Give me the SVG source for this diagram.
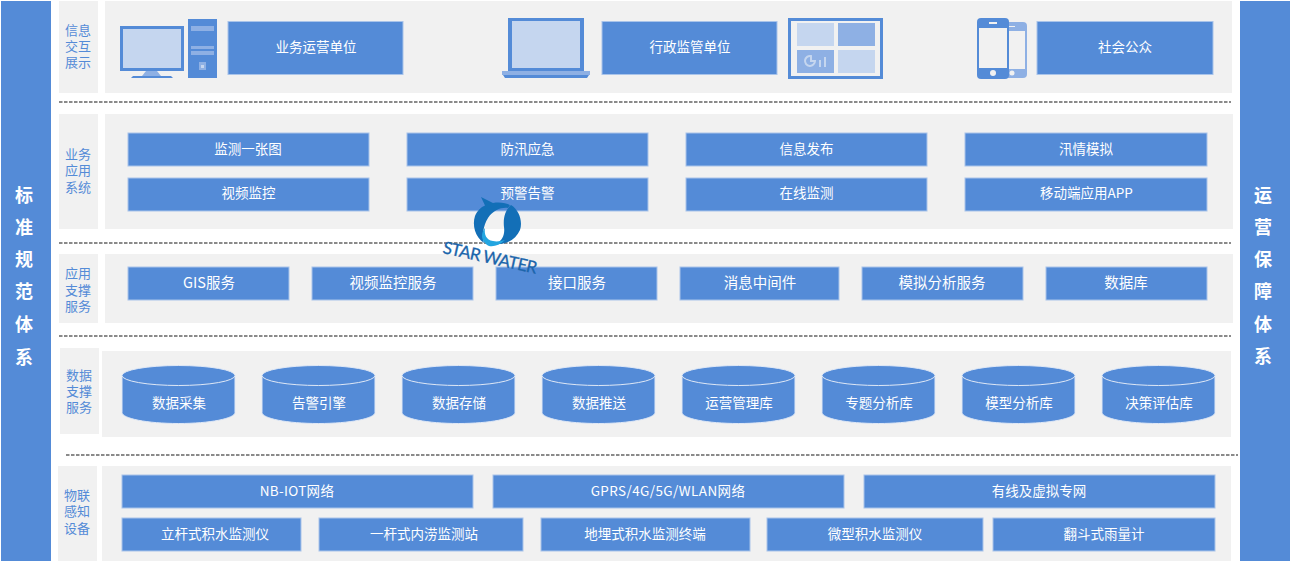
<svg xmlns="http://www.w3.org/2000/svg" width="1291" height="562" viewBox="0 0 1291 562">
<style>
text{font-family:"Noto Sans CJK SC","Noto Sans",sans-serif;text-anchor:middle}
.p{fill:#f1f1f1}
.b{fill:#548bd7;stroke:#a9c4ea;stroke-width:1}
.t{fill:#fff;font-size:13.5px}
.t2{fill:#fff;font-size:14.5px}
.l{fill:#548bd7;font-size:13px;font-family:"Liberation Sans","Noto Sans CJK SC",sans-serif}
.s{fill:#fff;font-size:18px;font-weight:700}
.d{stroke:#8a8a8a;stroke-width:2;stroke-dasharray:3.5 1.5;fill:none}
.m{fill:#548bd7}.c{fill:#c5d6ef}.n{fill:#8eb0e4}
.cy{fill:#548bd7;stroke:#dfe8f6;stroke-width:1}
</style>
<defs>
<g id="cyl"><path class="cy" d="M0 11.5V47.500C0 53.500 25 58.500 56.500 58.500S113 53.500 113 47.500V11.500"/><ellipse class="cy" cx="56.500" cy="10.500" rx="56.500" ry="10"/></g>
</defs>
<g id="sides">
<g id="side-left"><rect class="m" x="1" y="1" width="50" height="560"/>
<text class="s" x="24" y="202">标</text><text class="s" x="24" y="234">准</text><text class="s" x="24" y="266">规</text><text class="s" x="24" y="298">范</text><text class="s" x="24" y="331">体</text><text class="s" x="24" y="364">系</text></g>
<g id="side-right"><rect class="m" x="1240" y="1" width="50" height="560"/>
<text class="s" x="1263" y="202">运</text><text class="s" x="1263" y="234">营</text><text class="s" x="1263" y="266">保</text><text class="s" x="1263" y="298">障</text><text class="s" x="1263" y="331">体</text><text class="s" x="1263" y="363">系</text></g>
</g>
<g id="panels">
<rect class="p" x="59" y="1" width="39" height="92"/><rect class="p" x="105" y="1" width="1127" height="92"/>
<rect class="p" x="59" y="114" width="39" height="115"/><rect class="p" x="105" y="114" width="1128" height="115"/>
<rect class="p" x="59" y="254" width="39" height="69"/><rect class="p" x="105" y="254" width="1128" height="69"/>
<rect class="p" x="60" y="348" width="39" height="86"/><rect class="p" x="102" y="351" width="1129" height="86"/>
<rect class="p" x="58" y="466" width="39" height="95"/><rect class="p" x="102" y="466" width="1129" height="95"/>
</g>
<g id="connectors">
<path class="d" d="M59 102H1231M59 243H1231M59 336H1231M66 455H1238"/>
</g>
<g id="labels">
<text class="l"><tspan x="78" y="35">信息</tspan><tspan x="78" y="51">交互</tspan><tspan x="78" y="67">展示</tspan></text>
<text class="l"><tspan x="78" y="159">业务</tspan><tspan x="78" y="175">应用</tspan><tspan x="78" y="192">系统</tspan></text>
<text class="l"><tspan x="78" y="278">应用</tspan><tspan x="78" y="295">支撑</tspan><tspan x="78" y="311">服务</tspan></text>
<text class="l"><tspan x="79" y="380">数据</tspan><tspan x="79" y="396">支撑</tspan><tspan x="79" y="412">服务</tspan></text>
<text class="l"><tspan x="77" y="500">物联</tspan><tspan x="77" y="516">感知</tspan><tspan x="77" y="533">设备</tspan></text>
</g>
<g id="icons">
<g id="icon-pc"><rect class="m" x="120" y="26" width="64" height="45"/><rect class="c" x="123" y="29" width="58" height="39"/><path class="n" d="M146 71H157L161 76H142Z"/><path class="m" d="M133 76H171L173 78H131Z"/><rect class="m" x="188" y="19" width="29" height="59"/><rect class="n" x="191" y="26" width="23" height="5"/><rect class="n" x="191" y="46" width="23" height="3"/><rect class="n" x="191" y="51" width="23" height="4"/><rect class="n" x="199" y="62" width="7" height="8"/><rect class="c" x="201" y="65" width="3" height="3"/></g>
<g id="icon-laptop"><rect class="m" x="508" y="18" width="76" height="54"/><rect class="c" x="512" y="21" width="68" height="47"/><rect class="n" x="502" y="71" width="88" height="4"/><path class="m" d="M503 75H589L587 78H505Z"/></g>
<g id="icon-dash"><rect class="m" x="788" y="18" width="95" height="61"/><rect fill="#f1f1f1" x="791" y="21" width="89" height="55"/><rect class="c" x="797" y="23" width="37" height="23"/><rect class="n" x="838" y="23" width="37" height="23"/><rect class="n" x="797" y="50" width="37" height="23"/><rect class="c" x="838" y="50" width="37" height="23"/><path d="M815 61A5 5 0 1 1 811 56V61Z" fill="none" stroke="#c5d6ef" stroke-width="2"/><rect class="c" x="819" y="60" width="2" height="7"/><rect class="c" x="824" y="57" width="2" height="10"/></g>
<g id="icon-phones"><rect class="n" x="1000" y="22" width="27" height="56" rx="4"/><rect fill="#f1f1f1" x="1008" y="31" width="17" height="38"/><rect class="m" x="977" y="18" width="32" height="61" rx="4"/><rect fill="#f1f1f1" x="979" y="28" width="28" height="40"/><circle cx="993" cy="73" r="3" fill="#f1f1f1"/><rect fill="#f1f1f1" x="989" y="22" width="8" height="2"/><circle cx="1012" cy="73" r="2.500" fill="#f1f1f1"/><rect fill="#f1f1f1" x="1009" y="26" width="6" height="1"/></g>
</g>
<g id="row1">
<g id="n1"><rect class="b" x="228" y="21.500" width="175" height="53"/><text class="t" x="316" y="52">业务运营单位</text></g>
<g id="n2"><rect class="b" x="602" y="21.500" width="175" height="53"/><text class="t" x="690" y="52">行政监管单位</text></g>
<g id="n3"><rect class="b" x="1037" y="21.500" width="176" height="53"/><text class="t" x="1125" y="52">社会公众</text></g>
</g>
<g id="row2">
<g id="n4"><rect class="b" x="128" y="133" width="241" height="33"/><text class="t" x="248" y="154">监测一张图</text></g>
<g id="n5"><rect class="b" x="407" y="133" width="241" height="33"/><text class="t" x="527.500" y="154">防汛应急</text></g>
<g id="n6"><rect class="b" x="686" y="133" width="241" height="33"/><text class="t" x="806.500" y="154">信息发布</text></g>
<g id="n7"><rect class="b" x="965" y="133" width="242" height="33"/><text class="t" x="1086" y="154">汛情模拟</text></g>
<g id="n8"><rect class="b" x="128" y="178" width="241" height="33"/><text class="t" x="248.500" y="198">视频监控</text></g>
<g id="n9"><rect class="b" x="407" y="178" width="241" height="33"/><text class="t" x="527.500" y="198">预警告警</text></g>
<g id="n10"><rect class="b" x="686" y="178" width="241" height="33"/><text class="t" x="806.500" y="198">在线监测</text></g>
<g id="n11"><rect class="b" x="965" y="178" width="242" height="33"/><text class="t" x="1086.500" y="198">移动端应用APP</text></g>
</g>
<g id="row3">
<g id="n12"><rect class="b" x="128" y="267" width="161" height="33"/><text class="t2" x="209" y="288">GIS服务</text></g>
<g id="n13"><rect class="b" x="312" y="267" width="161" height="33"/><text class="t2" x="393" y="288">视频监控服务</text></g>
<g id="n14"><rect class="b" x="496" y="267" width="161" height="33"/><text class="t2" x="577" y="288">接口服务</text></g>
<g id="n15"><rect class="b" x="680" y="267" width="159" height="33"/><text class="t2" x="760" y="288">消息中间件</text></g>
<g id="n16"><rect class="b" x="862" y="267" width="161" height="33"/><text class="t2" x="942" y="288">模拟分析服务</text></g>
<g id="n17"><rect class="b" x="1046" y="267" width="161" height="33"/><text class="t2" x="1126" y="288">数据库</text></g>
</g>
<g id="row4">
<g id="c1"><use href="#cyl" x="122" y="365"/><text class="t" x="179" y="408">数据采集</text></g>
<g id="c2"><use href="#cyl" x="262" y="365"/><text class="t" x="319" y="408">告警引擎</text></g>
<g id="c3"><use href="#cyl" x="402" y="365"/><text class="t" x="459" y="408">数据存储</text></g>
<g id="c4"><use href="#cyl" x="542" y="365"/><text class="t" x="599" y="408">数据推送</text></g>
<g id="c5"><use href="#cyl" x="682" y="365"/><text class="t" x="739" y="408">运营管理库</text></g>
<g id="c6"><use href="#cyl" x="822" y="365"/><text class="t" x="879" y="408">专题分析库</text></g>
<g id="c7"><use href="#cyl" x="962" y="365"/><text class="t" x="1019" y="408">模型分析库</text></g>
<g id="c8"><use href="#cyl" x="1102" y="365"/><text class="t" x="1159" y="408">决策评估库</text></g>
</g>
<g id="row5">
<g id="n18"><rect class="b" x="122" y="475" width="351" height="33"/><text class="t" x="297" y="496" style="letter-spacing:.3px">NB-IOT网络</text></g>
<g id="n19"><rect class="b" x="493" y="475" width="351" height="33"/><text class="t" x="668" y="496" style="letter-spacing:.4px">GPRS/4G/5G/WLAN网络</text></g>
<g id="n20"><rect class="b" x="864" y="475" width="351" height="33"/><text class="t" x="1039" y="496">有线及虚拟专网</text></g>
<g id="n21"><rect class="b" x="122" y="518" width="179" height="33"/><text class="t" x="215" y="539">立杆式积水监测仪</text></g>
<g id="n22"><rect class="b" x="319" y="518" width="204" height="33"/><text class="t" x="424" y="539">一杆式内涝监测站</text></g>
<g id="n23"><rect class="b" x="541" y="518" width="209" height="33"/><text class="t" x="645" y="539">地埋式积水监测终端</text></g>
<g id="n24"><rect class="b" x="767" y="518" width="216" height="33"/><text class="t" x="875" y="539">微型积水监测仪</text></g>
<g id="n25"><rect class="b" x="993" y="518" width="222" height="33"/><text class="t" x="1104" y="539">翻斗式雨量计</text></g>
</g>
<g id="logo">
<path fill="#136fb7" d="M481 197L493 203C500 202 506 203 510 205L508 208C502 207 493 210 488 218C483 226 482 236 484 243C475 237 472 225 475 216C477 211 481 207 485 205.500Z"/>
<path fill="#136fb7" d="M511 205C519 210 523 221 520 230C516 239 507 245 496 244C503 240 505 234 504 227C503 218 505 210 511 205Z"/>
<path fill="#23a5e0" d="M485 228C484 234 486 240 493 241C497 242 501 241 505 240C500 245 494 247 489 246C485 244 482 240 482 236C482 233 483 230 485 228Z"/>
<text id="logo-text" x="442" y="253" transform="rotate(12.500 442 253)" textLength="96" style="font-family:Lato,sans-serif;font-size:17px;fill:#1b65ab;stroke:#1b65ab;stroke-width:.3;text-anchor:start">STAR WATER</text>
</g>
</svg>
